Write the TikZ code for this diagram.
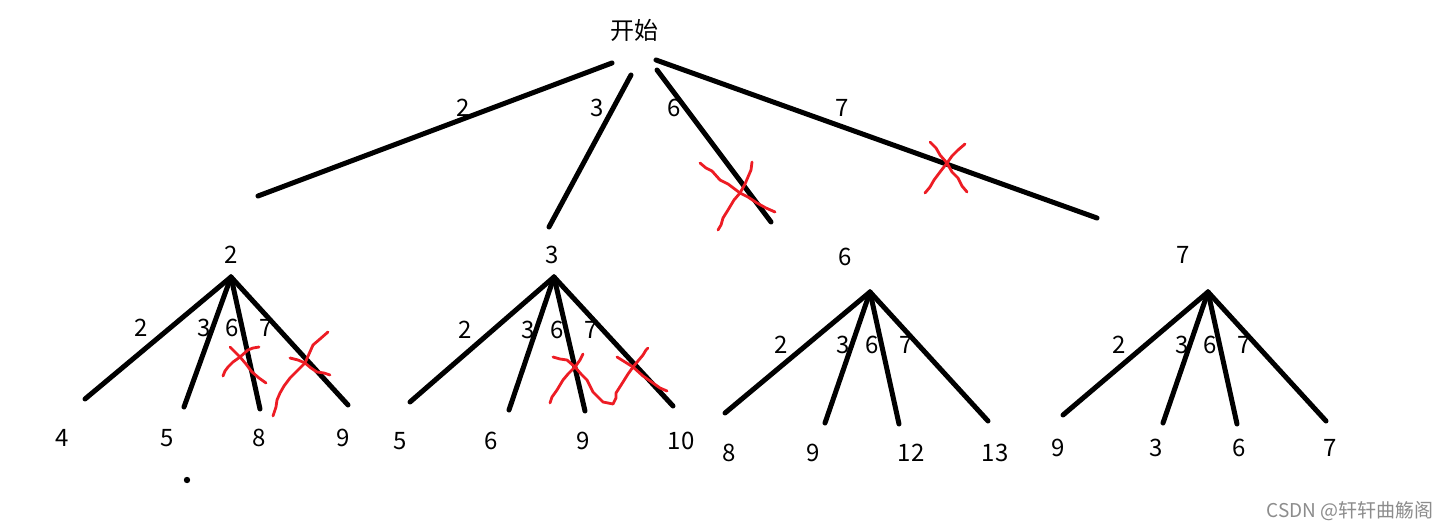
\documentclass[tikz,border=0pt]{standalone}
\usepackage{fontspec}
\setmainfont{Noto Sans CJK SC}
\definecolor{paintred}{HTML}{ED1C24}
\definecolor{wmgray}{HTML}{8C8C8C}
\begin{document}
\begin{tikzpicture}[x=1pt,y=-1pt,
  edge/.style={line width=5pt, line cap=round},
  lbl/.style={font=\fontsize{24}{24}\selectfont, inner sep=0pt},
  cross/.style={draw=paintred, line width=2.8pt, line cap=round, line join=round}]
\useasboundingbox[fill=white] (0,0) rectangle (1450,530);

% ---------- top level ----------
\node[lbl] (start) at (634,30) {开始};
\coordinate (t1a) at (612,63);  \coordinate (t1b) at (258,196);
\coordinate (t2a) at (631,75);  \coordinate (t2b) at (549,227);
\coordinate (t3a) at (657,70);  \coordinate (t3b) at (771,222);
\coordinate (t4a) at (656,60);  \coordinate (t4b) at (1097,218);
\draw[edge] (t1a) -- (t1b);
\draw[edge] (t2a) -- (t2b);
\draw[edge] (t3a) -- (t3b);
\draw[edge] (t4a) -- (t4b);
\node[lbl] (e1) at (463,108) {2};
\node[lbl] (e2) at (597,108) {3};
\node[lbl] (e3) at (674,108) {6};
\node[lbl] (e4) at (842,108) {7};

% ---------- subtree 2 ----------
\node[lbl] (n2) at (231,255) {2};
\coordinate (a2) at (231,277);
\coordinate (a2c1) at (85,399);
\coordinate (a2c2) at (184,407);
\coordinate (a2c3) at (260,409);
\coordinate (a2c4) at (348,405);
\foreach \c in {a2c1,a2c2,a2c3,a2c4} \draw[edge] (a2) -- (\c);
\node[lbl] (a2e1) at (141,328) {2};
\node[lbl] (a2e2) at (204,328) {3};
\node[lbl] (a2e3) at (232,328) {6};
\node[lbl] (a2e4) at (266,328) {7};
\node[lbl] (a2l1) at (62,438) {4};
\node[lbl] (a2l2) at (167,438) {5};
\node[lbl] (a2l3) at (259,438) {8};
\node[lbl] (a2l4) at (343,438) {9};
\fill (187,480) circle (3.2);

% ---------- subtree 3 ----------
\node[lbl] (n3) at (552,255) {3};
\coordinate (a3) at (554,277);
\coordinate (a3c1) at (410,402);
\coordinate (a3c2) at (509,410);
\coordinate (a3c3) at (585,411);
\coordinate (a3c4) at (673,406);
\foreach \c in {a3c1,a3c2,a3c3,a3c4} \draw[edge] (a3) -- (\c);
\node[lbl] (a3e1) at (465,330) {2};
\node[lbl] (a3e2) at (528,330) {3};
\node[lbl] (a3e3) at (557,330) {6};
\node[lbl] (a3e4) at (591,330) {7};
\node[lbl] (a3l1) at (400,441) {5};
\node[lbl] (a3l2) at (491,441) {6};
\node[lbl] (a3l3) at (583,441) {9};
\node[lbl] (a3l4) at (681,441) {10};

% ---------- subtree 6 ----------
\node[lbl] (n6) at (845,257) {6};
\coordinate (a6) at (870,292);
\coordinate (a6c1) at (725,413);
\coordinate (a6c2) at (825,423);
\coordinate (a6c3) at (899,424);
\coordinate (a6c4) at (988,421);
\foreach \c in {a6c1,a6c2,a6c3,a6c4} \draw[edge] (a6) -- (\c);
\node[lbl] (a6e1) at (781,345) {2};
\node[lbl] (a6e2) at (843,345) {3};
\node[lbl] (a6e3) at (872,345) {6};
\node[lbl] (a6e4) at (906,345) {7};
\node[lbl] (a6l1) at (729,453) {8};
\node[lbl] (a6l2) at (813,453) {9};
\node[lbl] (a6l3) at (911,453) {12};
\node[lbl] (a6l4) at (995,453) {13};

% ---------- subtree 7 ----------
\node[lbl] (n7) at (1183,255) {7};
\coordinate (a7) at (1208,292);
\coordinate (a7c1) at (1063,415);
\coordinate (a7c2) at (1163,423);
\coordinate (a7c3) at (1237,424);
\coordinate (a7c4) at (1326,421);
\foreach \c in {a7c1,a7c2,a7c3,a7c4} \draw[edge] (a7) -- (\c);
\node[lbl] (a7e1) at (1119,345) {2};
\node[lbl] (a7e2) at (1182,345) {3};
\node[lbl] (a7e3) at (1210,345) {6};
\node[lbl] (a7e4) at (1244,345) {7};
\node[lbl] (a7l1) at (1058,448) {9};
\node[lbl] (a7l2) at (1156,448) {3};
\node[lbl] (a7l3) at (1239,448) {6};
\node[lbl] (a7l4) at (1330,448) {7};

% ---------- red crosses ----------
% top, edge 6
\draw[cross] (700,163) -- (706,168) -- (712,171) -- (720,180) -- (728,184) -- (740,193) -- (748,197) -- (757,203) -- (766,208) -- (775,212);
\draw[cross] (752,162) -- (751,170) -- (748,177) -- (745,184) -- (740,193) -- (734,200) -- (728,210) -- (723,218) -- (721,225) -- (718,230);
% top, edge 7
\draw[cross] (930,142) -- (936,148) -- (940,155) -- (947,163) -- (952,172) -- (958,178) -- (962,186) -- (967,192);
\draw[cross] (965,144) -- (958,150) -- (952,156) -- (947,163) -- (940,172) -- (934,180) -- (930,187) -- (925,193);
% subtree 2
\draw[cross] (230,347) -- (235,352) -- (240,357) -- (246,364) -- (252,372) -- (259,378) -- (266,383);
\draw[cross] (259,347) -- (253,348) -- (248,350) -- (240,357) -- (233,362) -- (228,367) -- (225,371) -- (223,376);
\draw[cross] (290,358) -- (298,360) -- (305,363) -- (311,368) -- (317,372) -- (324,373) -- (330,375);
\draw[cross] (328,332) -- (320,339) -- (313,345) -- (309,354) -- (305,363) -- (297,371) -- (290,378) -- (284,386) -- (280,393) -- (277,400) -- (276,407) -- (273,416);
% subtree 3
\draw[cross] (553,357) -- (560,359) -- (567,360) -- (575,367) -- (581,374) -- (587,380) -- (593,392) -- (603,402) -- (613,404) -- (616,398) -- (616,393) -- (623,382) -- (628,374) -- (633,367) -- (643,355) -- (646,350) -- (648,348);
\draw[cross] (583,354) -- (580,360) -- (575,367) -- (568,374) -- (563,380) -- (557,390) -- (552,397) -- (550,403);
\draw[cross] (617,357) -- (625,362) -- (633,367) -- (643,376) -- (653,383) -- (660,388) -- (667,391);

% ---------- watermark ----------
\node[font=\fontsize{19}{19}\selectfont, text=wmgray, inner sep=0pt] (wm) at (1350,511) {CSDN @轩轩曲觞阁};
\end{tikzpicture}
\end{document}
